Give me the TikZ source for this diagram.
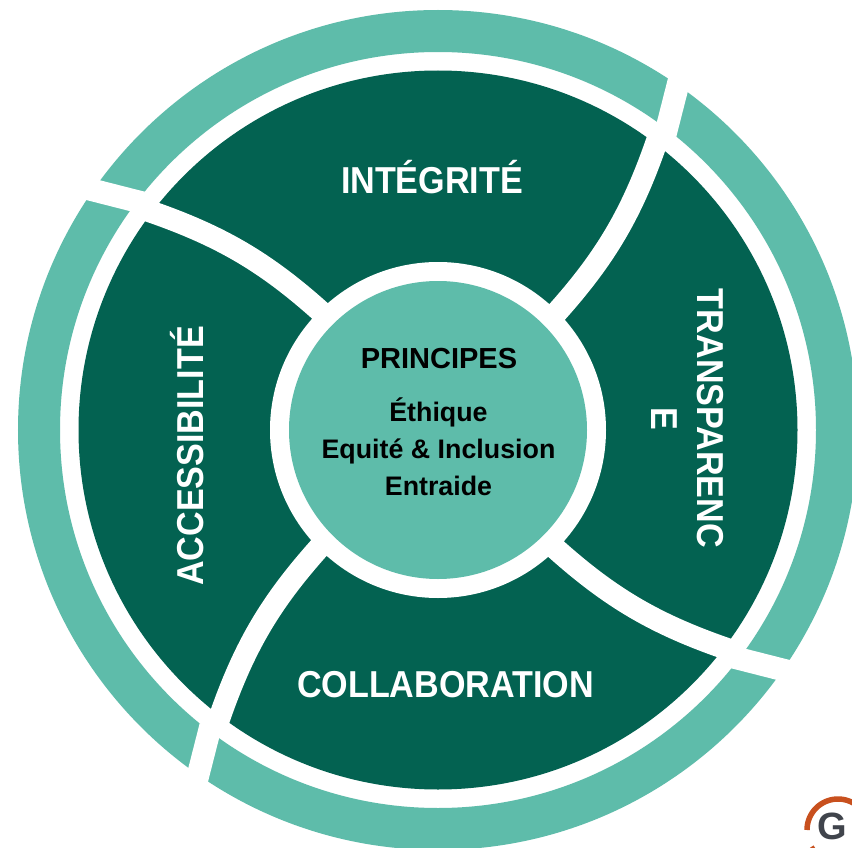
\documentclass[tikz,border=0pt]{standalone}
\usepackage{fontspec}
\setmainfont{Liberation Sans}
\newfontfamily\headfont[FakeStretch=0.91]{Liberation Sans}
\definecolor{darkgreen}{HTML}{036251}
\definecolor{teal}{HTML}{5EBCAA}
\definecolor{logoorange}{HTML}{C8501E}
\definecolor{logogrey}{HTML}{40444C}
\tikzset{
  outerring/.style={draw=teal,line width=42pt},
  wedgedisc/.style={fill=darkgreen},
  ringcut/.style={draw=white,line width=22.5pt},
  whiteband/.style={draw=white,line width=22pt},
  hub/.style={fill=teal},
  headlabel/.style={text=white,font=\headfont\bfseries\fontsize{37.5}{46}\selectfont,align=center,inner sep=0pt},
  hubtitle/.style={text=black,font=\bfseries\fontsize{29}{30}\selectfont,inner sep=0pt},
  hubtext/.style={text=black,font=\bfseries\fontsize{26.8}{37}\selectfont,align=center,inner sep=0pt}
}
\begin{document}
\begin{tikzpicture}[x=1pt,y=-1pt]
\useasboundingbox (0,0) rectangle (852,848);
\clip (0,0) rectangle (852,848);
\coordinate (c) at (438,430);
\fill[white] (0,0) rectangle (852,848);
% outer ring and main disc
\draw[outerring] (c) circle[radius=399pt];
\fill[wedgedisc] (c) circle[radius=359.5pt];
% curved separators, repeated by quarter turns
\foreach \a in {0,90,180,270}{
  \begin{scope}[rotate around={\a:(c)}]
    \draw[ringcut] (80,186.8) -- (142,202.6);
    \draw[whiteband] (137,207) .. controls (220,234.4) and (267,262) .. (330,320);
  \end{scope}
}
% central hub
\fill[white] (c) circle[radius=168pt];
\fill[hub] (c) circle[radius=149pt];
% labels
\node[headlabel] (integrite) at (432,177) {INTÉGRITÉ};
\node[headlabel,rotate=-90] (transparence) at (687.5,418.5) {TRANSPARENC\\E};
\node[headlabel] (collaboration) at (445.5,685) {COLLABORATION};
\node[headlabel,rotate=90] (accessibilite) at (187,456) {ACCESSIBILITÉ};
\node[hubtitle] (principes) at (439,359) {PRINCIPES};
\node[hubtext] (valeurs) at (438.5,447) {Éthique\\Equité \& Inclusion\\Entraide};
% logo
\draw[logoorange,line width=5.5pt] (807,830) arc[start angle=180,end angle=0,radius=31pt];
\draw[logoorange,line width=5.5pt] (811.2,847) arc[start angle=211,end angle=240,radius=31pt];
\node[text=logogrey,font=\bfseries\fontsize{38}{38}\selectfont,inner sep=0pt,anchor=west] (logog) at (817,826) {G};
\end{tikzpicture}
\end{document}
